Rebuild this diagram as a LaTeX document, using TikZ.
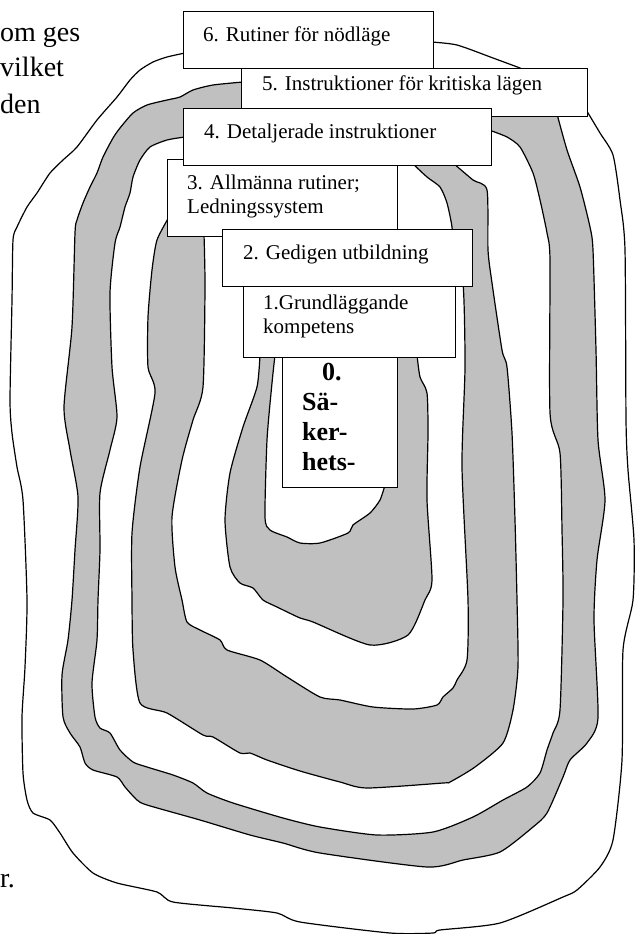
\documentclass[tikz,border=0pt]{standalone}
\usepackage{fontspec}
\setmainfont{Liberation Serif}
\usetikzlibrary{calc}
\definecolor{ringgray}{RGB}{192,192,192}

\begin{document}
\begin{tikzpicture}[
  x=1pt, y=-1pt,
  ring/.style={draw, line width=1.2pt, fill=ringgray, line join=round},
  gap/.style={draw, line width=1.2pt, fill=white, line join=round},
  lvl/.style={draw, line width=1.4pt, fill=white, anchor=north west, inner sep=0pt},
  lbl/.style={anchor=base west, inner sep=0pt, align=left,
              font=\fontsize{21}{24}\selectfont},
  core/.style={anchor=base west, inner sep=0pt, align=left,
               font=\fontsize{26}{30}\selectfont\bfseries},
  body/.style={anchor=base west, inner sep=0pt, align=left,
               font=\fontsize{28}{36}\selectfont}
]
\useasboundingbox (0,0) rectangle (635,934);

% ── Text of the page around the figure ───────────────────────────────────────
\node[body] (intro) at (0,113) {om ges\\vilket\\den};
\node[body] (tail)  at (0,887) {r.};

% ── Outermost line ───────────────────────────────────────────────────────────
\draw[gap] plot[smooth, tension=.4] coordinates {(185,53) (167,57) (153,62)
  (140,70) (130,80) (117,97) (97,120) (77,147) (63,160) (50,173) (37,193)
  (27,207) (17,227) (13,240) (12,300) (10,400) (12,433) (17,467) (23,500)
  (27,600) (25,667) (22,717) (23,773) (27,800) (33,813) (50,820) (60,833)
  (73,853) (93,873) (117,883) (157,892) (173,902) (233,908) (277,913)
  (300,922) (390,933) (433,933) (440,930) (500,923) (563,897) (577,890)
  (600,867) (613,840) (622,760) (623,650) (633,600) (634,540) (628,470)
  (626,420) (625,250) (620,200) (613,155) (600,133) (585,108)}
  -- plot[smooth, tension=.4] coordinates {(520,68) (493,58) (457,45) (431,42)}
  -- cycle;

% ── Outer grey ring ──────────────────────────────────────────────────────────
\draw[ring] plot[smooth, tension=.4] coordinates {(243,82) (213,85) (193,90)
  (180,97) (167,100) (147,105) (133,113) (120,128) (113,138) (103,157)
  (97,173) (90,187) (83,203) (77,220) (75,233) (72,327) (64,407) (70,450)
  (78,497) (75,550) (72,600) (68,640) (62,675) (63,717) (70,733) (80,747)
  (85,763) (93,770) (117,777) (125,787) (137,800) (147,805) (200,820)
  (250,835) (283,843) (320,853) (427,867) (463,860) (500,852) (533,827)
  (547,813) (563,777) (570,760) (587,743) (598,718) (594,620) (597,560)
  (605,500) (598,440) (596,350) (593,250) (590,227) (580,187) (567,150)
  (557,114)} -- cycle;
\draw[gap] plot[smooth, tension=.4] coordinates {(185,137) (167,140) (150,147)
  (140,160) (133,177) (130,193) (125,207) (120,227) (115,243) (110,293)
  (112,367) (117,417) (110,450) (100,493) (100,550) (98,600) (97,640)
  (92,683) (95,717) (100,728) (110,733) (120,750) (133,762) (147,767)
  (173,775) (193,783) (207,793) (233,803) (283,818) (320,827) (377,835)
  (433,832) (473,817) (503,800) (527,787) (540,773) (547,750) (553,733)
  (560,710) (563,600) (562,530) (560,453) (550,413) (550,260) (547,233)
  (540,200) (533,173) (520,147) (507,137) (489,130)} -- cycle;

% ── Middle grey ring ─────────────────────────────────────────────────────────
\draw[ring] plot[smooth, tension=.4] coordinates {(169,217) (157,240)
  (152,270) (148,317) (148,367) (155,393) (140,467) (132,533) (132,600)
  (133,650) (140,703) (167,713) (203,735) (213,737) (240,753) (250,753)
  (267,760) (300,771) (340,782) (367,788) (443,783) (450,782) (475,767)
  (503,743) (513,710) (518,667) (517,600) (515,520) (512,433) (507,367)
  (502,350) (492,283) (488,250) (487,190) (473,180) (453,163)}
  -- (390,162) -- cycle;
\draw[gap] plot[smooth, tension=.4] coordinates {(204,234) (205,287)
  (203,387) (193,420) (182,460) (172,517) (175,567) (182,600) (187,622)
  (200,630) (220,640) (227,650) (260,660) (287,677) (320,697) (340,700)
  (373,707) (413,709) (437,705) (443,697) (453,688) (457,680) (467,660)
  (468,600) (462,467) (465,367) (463,283) (453,250) (452,227) (447,203)
  (440,187) (427,177) (412,163)} -- (392,163) -- cycle;

% ── Inner grey ring ──────────────────────────────────────────────────────────
\draw[ring] plot[smooth, tension=.4] coordinates {(260,355) (257,387)
  (243,427) (230,473) (225,520) (230,567) (240,583) (253,588) (263,600)
  (277,607) (300,618) (313,622) (370,645) (408,635) (425,600) (432,580)
  (427,500) (428,433) (427,393) (420,377) (417,355)} -- cycle;
\draw[gap] plot[smooth, tension=.4] coordinates {(275,355) (272,383)
  (267,440) (265,517) (270,530) (287,537) (300,543) (320,543) (348,533)
  (353,525) (370,513) (380,500) (385,485)} -- (392,360) -- cycle;

% ── Level boxes ──────────────────────────────────────────────────────────────
\node[lvl, minimum width=250, minimum height=57] (b6) at (183,11) {};
\node[lbl] (t6) at ($(b6.north west)+(20,31)$) {6. Rutiner för nödläge};
\node[lvl, minimum width=346, minimum height=48] (b5) at (241,68) {};
\node[lbl] (t5) at ($(b5.north west)+(21,22)$) {5. Instruktioner för kritiska lägen};
\node[lvl, minimum width=230, minimum height=77] (b3) at (167,159) {};
\node[lbl] (t3) at ($(b3.north west)+(20,54)$) {3. Allmänna rutiner;\\Ledningssystem};
\node[lvl, minimum width=308, minimum height=57] (b4) at (183,108) {};
\node[lbl] (t4) at ($(b4.north west)+(21,30)$) {4. Detaljerade instruktioner};
\node[lvl, minimum width=250, minimum height=57] (b2) at (222,229) {};
\node[lbl] (t2) at ($(b2.north west)+(21,30)$) {2. Gedigen utbildning};
\node[lvl, minimum width=212, minimum height=71] (b1) at (243,286) {};
\node[lbl] (t1) at ($(b1.north west)+(20,47)$) {1.Grundläggande\\kompetens};
\node[lvl, minimum width=115, minimum height=130] (b0) at (282,357) {};
\node[core] (t0) at ($(b0.north west)+(20,113)$) {\hspace*{20pt}0.\\Sä-\\ker-\\hets-};
\end{tikzpicture}
\end{document}
